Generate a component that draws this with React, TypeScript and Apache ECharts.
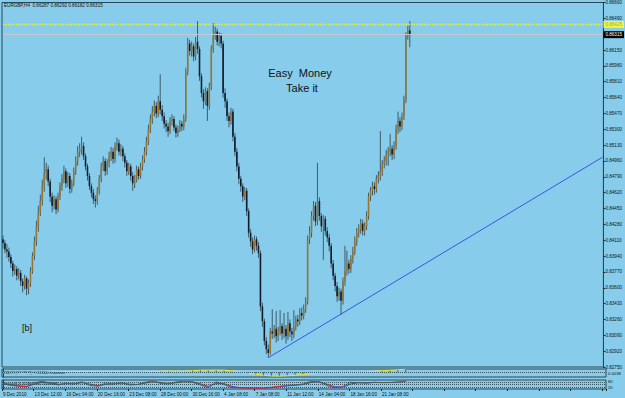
import React, { useEffect, useRef } from 'react';
import * as echarts from 'echarts';

// ---------- data ----------
const timeLabels = ['9 Dec 2010', '13 Dec 12:00', '16 Dec 04:00', '20 Dec 16:00', '23 Dec 08:00', '28 Dec 00:00', '30 Dec 16:00', '4 Jan 08:00', '7 Jan 08:00', '11 Jan 12:00', '14 Jan 04:00', '18 Jan 16:00', '21 Jan 08:00'];

const opens = [
  0.8412,0.8408,0.8401,0.8399,0.8393,0.8386,0.8378,0.8380,0.8373,0.8376,
  0.8367,0.8362,0.8370,0.8359,0.8365,0.8378,0.8394,0.8410,0.8426,0.8442,
  0.8453,0.8469,0.8483,0.8487,0.8474,0.8458,0.8448,0.8455,0.8444,0.8458,
  0.8469,0.8477,0.8485,0.8472,0.8480,0.8466,0.8472,0.8485,0.8496,0.8506,
  0.8509,0.8512,0.8501,0.8490,0.8480,0.8469,0.8462,0.8455,0.8453,0.8464,
  0.8477,0.8490,0.8496,0.8485,0.8494,0.8501,0.8506,0.8498,0.8512,0.8515,
  0.8506,0.8509,0.8501,0.8494,0.8485,0.8490,0.8480,0.8472,0.8477,0.8487,
  0.8480,0.8490,0.8498,0.8506,0.8517,0.8530,0.8541,0.8549,0.8555,0.8547,
  0.8560,0.8551,0.8544,0.8536,0.8533,0.8528,0.8539,0.8541,0.8532,0.8526,
  0.8530,0.8536,0.8533,0.8541,0.8592,0.8622,0.8614,0.8619,0.8608,0.8624,
  0.8616,0.8587,0.8569,0.8560,0.8571,0.8555,0.8576,0.8616,0.8630,0.8635,
  0.8624,0.8630,0.8622,0.8569,0.8560,0.8544,0.8539,0.8549,0.8522,0.8506,
  0.8490,0.8477,0.8469,0.8458,0.8464,0.8442,0.8419,0.8410,0.8401,0.8412,
  0.8405,0.8397,0.8340,0.8324,0.8303,0.8294,0.8290,0.8313,0.8311,0.8316,
  0.8308,0.8313,0.8319,0.8311,0.8316,0.8308,0.8322,0.8313,0.8310,0.8319,
  0.8326,0.8324,0.8333,0.8330,0.8337,0.8346,0.8412,0.8419,0.8437,0.8448,
  0.8431,0.8453,0.8437,0.8426,0.8434,0.8421,0.8414,0.8405,0.8386,0.8373,
  0.8362,0.8351,0.8356,0.8346,0.8367,0.8378,0.8386,0.8380,0.8391,0.8399,
  0.8410,0.8419,0.8423,0.8429,0.8421,0.8426,0.8437,0.8458,0.8464,0.8469,
  0.8466,0.8477,0.8480,0.8485,0.8493,0.8496,0.8504,0.8506,0.8509,0.8503,
  0.8512,0.8530,0.8539,0.8533,0.8544,0.8562,0.8630,0.8636,
];
const closes = [
  0.8408,0.8401,0.8399,0.8393,0.8386,0.8378,0.8380,0.8373,0.8376,0.8367,
  0.8362,0.8370,0.8359,0.8365,0.8378,0.8394,0.8410,0.8426,0.8442,0.8453,
  0.8469,0.8483,0.8487,0.8474,0.8458,0.8448,0.8455,0.8444,0.8458,0.8469,
  0.8477,0.8485,0.8472,0.8480,0.8466,0.8472,0.8485,0.8496,0.8506,0.8509,
  0.8512,0.8501,0.8490,0.8480,0.8469,0.8462,0.8455,0.8453,0.8464,0.8477,
  0.8490,0.8496,0.8485,0.8494,0.8501,0.8506,0.8498,0.8512,0.8515,0.8506,
  0.8509,0.8501,0.8494,0.8485,0.8490,0.8480,0.8472,0.8477,0.8487,0.8480,
  0.8490,0.8498,0.8506,0.8517,0.8530,0.8541,0.8549,0.8555,0.8547,0.8560,
  0.8551,0.8544,0.8536,0.8533,0.8528,0.8539,0.8541,0.8532,0.8526,0.8530,
  0.8536,0.8533,0.8541,0.8592,0.8622,0.8614,0.8619,0.8608,0.8624,0.8616,
  0.8587,0.8569,0.8560,0.8571,0.8555,0.8576,0.8616,0.8630,0.8635,0.8624,
  0.8630,0.8622,0.8569,0.8560,0.8544,0.8539,0.8549,0.8522,0.8506,0.8490,
  0.8477,0.8469,0.8458,0.8464,0.8442,0.8419,0.8410,0.8401,0.8412,0.8405,
  0.8397,0.8340,0.8324,0.8303,0.8294,0.8290,0.8313,0.8311,0.8316,0.8308,
  0.8313,0.8319,0.8311,0.8316,0.8308,0.8322,0.8313,0.8310,0.8319,0.8326,
  0.8324,0.8333,0.8330,0.8337,0.8346,0.8412,0.8419,0.8437,0.8448,0.8431,
  0.8453,0.8437,0.8426,0.8434,0.8421,0.8414,0.8405,0.8386,0.8373,0.8362,
  0.8351,0.8356,0.8346,0.8367,0.8378,0.8386,0.8380,0.8391,0.8399,0.8410,
  0.8419,0.8423,0.8429,0.8421,0.8426,0.8437,0.8458,0.8464,0.8469,0.8466,
  0.8477,0.8480,0.8485,0.8493,0.8496,0.8504,0.8506,0.8509,0.8503,0.8512,
  0.8530,0.8539,0.8533,0.8544,0.8562,0.8630,0.8636,0.86315,
];
const lows = [
  0.8402,0.8397,0.8392,0.8388,0.8381,0.8372,0.8374,0.8368,0.8369,0.8362,
  0.8355,0.8358,0.8352,0.8353,0.8361,0.8375,0.8390,0.8405,0.8420,0.8437,
  0.8448,0.8463,0.8476,0.8469,0.8452,0.8441,0.8444,0.8439,0.8441,0.8454,
  0.8464,0.8472,0.8467,0.8468,0.8461,0.8462,0.8469,0.8481,0.8491,0.8500,
  0.8503,0.8497,0.8486,0.8475,0.8465,0.8457,0.8450,0.8446,0.8449,0.8460,
  0.8473,0.8485,0.8480,0.8481,0.8489,0.8496,0.8493,0.8494,0.8507,0.8502,
  0.8501,0.8496,0.8489,0.8480,0.8481,0.8475,0.8464,0.8467,0.8473,0.8476,
  0.8477,0.8486,0.8494,0.8502,0.8513,0.8526,0.8536,0.8544,0.8542,0.8543,
  0.8546,0.8539,0.8531,0.8527,0.8522,0.8525,0.8534,0.8528,0.8521,0.8522,
  0.8527,0.8528,0.8529,0.8538,0.8588,0.8609,0.8608,0.8603,0.8604,0.8611,
  0.8582,0.8564,0.8552,0.8556,0.8539,0.8551,0.8572,0.8612,0.8626,0.8620,
  0.8619,0.8617,0.8564,0.8553,0.8539,0.8532,0.8535,0.8517,0.8501,0.8485,
  0.8471,0.8463,0.8452,0.8454,0.8437,0.8414,0.8404,0.8396,0.8398,0.8400,
  0.8392,0.8335,0.8318,0.8298,0.8289,0.8285,0.8288,0.8305,0.8306,0.8301,
  0.8303,0.8309,0.8304,0.8306,0.8300,0.8304,0.8307,0.8303,0.8306,0.8314,
  0.8318,0.8320,0.8325,0.8326,0.8333,0.8342,0.8407,0.8414,0.8432,0.8426,
  0.8427,0.8432,0.8420,0.8390,0.8416,0.8409,0.8399,0.8381,0.8368,0.8356,
  0.8345,0.8346,0.8331,0.8342,0.8362,0.8373,0.8375,0.8376,0.8386,0.8395,
  0.8405,0.8414,0.8418,0.8416,0.8416,0.8422,0.8433,0.8453,0.8459,0.8460,
  0.8462,0.8472,0.8475,0.8480,0.8488,0.8491,0.8491,0.8501,0.8497,0.8498,
  0.8508,0.8525,0.8527,0.8529,0.8540,0.8558,0.8626,0.8618,
];
const highs = [
  0.8416,0.8411,0.8407,0.8403,0.8396,0.8389,0.8385,0.8383,0.8381,0.8379,
  0.8370,0.8374,0.8372,0.8369,0.8382,0.8398,0.8415,0.8432,0.8448,0.8460,
  0.8476,0.8500,0.8494,0.8491,0.8477,0.8462,0.8459,0.8458,0.8462,0.8473,
  0.8482,0.8491,0.8488,0.8484,0.8483,0.8476,0.8489,0.8501,0.8512,0.8515,
  0.8522,0.8516,0.8504,0.8493,0.8483,0.8472,0.8466,0.8459,0.8468,0.8481,
  0.8494,0.8501,0.8499,0.8498,0.8506,0.8511,0.8510,0.8516,0.8521,0.8519,
  0.8514,0.8512,0.8504,0.8497,0.8494,0.8493,0.8484,0.8481,0.8491,0.8490,
  0.8494,0.8502,0.8511,0.8522,0.8535,0.8546,0.8555,0.8561,0.8559,0.8566,
  0.8589,0.8556,0.8548,0.8540,0.8537,0.8543,0.8546,0.8544,0.8535,0.8534,
  0.8540,0.8539,0.8546,0.8596,0.8628,0.8626,0.8624,0.8622,0.8629,0.8646,
  0.8619,0.8590,0.8573,0.8575,0.8574,0.8580,0.8620,0.8644,0.8640,0.8638,
  0.8634,0.8633,0.8625,0.8574,0.8563,0.8548,0.8553,0.8552,0.8526,0.8510,
  0.8494,0.8480,0.8472,0.8468,0.8467,0.8445,0.8423,0.8414,0.8416,0.8415,
  0.8409,0.8400,0.8344,0.8327,0.8307,0.8299,0.8317,0.8337,0.8320,0.8335,
  0.8318,0.8336,0.8322,0.8333,0.8320,0.8334,0.8326,0.8317,0.8336,0.8330,
  0.8331,0.8338,0.8339,0.8342,0.8350,0.8416,0.8426,0.8442,0.8453,0.8452,
  0.8494,0.8457,0.8440,0.8438,0.8437,0.8425,0.8418,0.8408,0.8390,0.8376,
  0.8366,0.8360,0.8359,0.8371,0.8405,0.8400,0.8390,0.8395,0.8404,0.8415,
  0.8424,0.8428,0.8434,0.8433,0.8430,0.8442,0.8462,0.8468,0.8474,0.8473,
  0.8481,0.8485,0.8528,0.8497,0.8501,0.8508,0.8511,0.8525,0.8513,0.8517,
  0.8535,0.8549,0.8543,0.8548,0.8566,0.8634,0.8641,0.8646,
];

// indicator values, one every 4 bars
const macdMain = [-0.0008,-0.0012,-0.0015,-0.0016,-0.0005,0.0008,0.0010,0.0008,0.0007,0.0008,
  0.0011,0.0006,0.0003,0.0004,0.0006,0.0006,0.0003,0.0001,0.0004,0.0012,
  0.0016,0.0014,0.0010,0.0010,0.0028,0.0030,0.0024,0.0030,0.0024,0.0010,
  -0.0008,-0.0022,-0.0033,-0.0048,-0.0052,-0.0048,-0.0042,-0.0034,-0.0026,-0.0008,
  0.0005,0.0008,0.0000,-0.0010,-0.0008,-0.0002,0.0006,0.0016,0.0022,0.0028,
  0.0034,0.0044];
const macdSignal = [-0.0006,-0.0009,-0.0012,-0.0014,-0.0010,-0.0002,0.0005,0.0008,0.0008,0.0008,
  0.0009,0.0008,0.0005,0.0004,0.0005,0.0006,0.0004,0.0002,0.0003,0.0007,
  0.0012,0.0014,0.0012,0.0011,0.0019,0.0026,0.0026,0.0028,0.0026,0.0017,
  0.0004,-0.0012,-0.0025,-0.0038,-0.0047,-0.0049,-0.0045,-0.0038,-0.0030,-0.0016,
  -0.0004,0.0004,0.0002,-0.0006,-0.0008,-0.0004,0.0002,0.0010,0.0018,0.0024,
  0.0030,0.0038];
const oscRed = [55,40,30,25,70,85,60,45,65,55, 80,40,30,65,55,70,45,50,75,90,
  60,55,80,85,75,45,15,80,50,15, 12,10,10,8,20,30,40,45,55,85,
  80,40,12,25,75,70,65,75,70,72, 78,90];
const oscBlue = [60,48,35,28,55,78,70,52,58,58, 70,55,38,50,58,65,55,50,65,82,
  72,60,70,82,80,58,28,60,60,28, 15,12,10,10,15,25,35,42,50,72,
  82,55,25,20,55,70,68,72,72,72, 75,85];

const priceMin = 0.8275;
const priceMax = 0.8666;
const priceStep = 0.0017;
const resistanceLevel = 0.86425;
const bidPrice = 0.86315;
const trendStart = { bar: 135, price: 0.8285 };
const trendEnd = { bar: 305, price: 0.85 };
const TOTAL_SLOTS = 306;
const LABEL_EVERY = 16;
const IND_STEP = 4;

const FONT = 'Liberation Sans, Arial, sans-serif';
const BG = '#87cdeb';
const FRAME = '#2e4450';

export default function App() {
  const ref = useRef<HTMLDivElement>(null);
  useEffect(() => {
    if (!ref.current) return;
    const chart = echarts.init(ref.current, undefined, { renderer: 'svg' });

    const categories = Array.from({ length: TOTAL_SLOTS }, (_, i) =>
      i % LABEL_EVERY === 0 && timeLabels[i / LABEL_EVERY] ? timeLabels[i / LABEL_EVERY] : '');
    const candleData = opens.map((o, i) => [i, o, closes[i], lows[i], highs[i]]);
    const ind = (arr: number[]) => arr.map((v, k) => [k * IND_STEP, v]);
    const lastSlot = TOTAL_SLOTS - 1;

    const option: any = {
      animation: false,
      backgroundColor: BG,
      textStyle: { fontFamily: FONT },
      grid: [
        { left: 2, top: 2, width: 604, height: 365, show: true, borderColor: FRAME, borderWidth: 1 },
        { left: 2, top: 369, width: 604, height: 8, show: true, borderColor: FRAME, borderWidth: 1 },
        { left: 2, top: 380, width: 604, height: 9, show: true, borderColor: FRAME, borderWidth: 1 },
      ],
      xAxis: [
        { type: 'category', gridIndex: 0, data: categories, boundaryGap: true, show: false },
        { type: 'value', gridIndex: 1, min: -0.5, max: TOTAL_SLOTS - 0.5, show: false },
        { type: 'value', gridIndex: 2, min: -0.5, max: TOTAL_SLOTS - 0.5, show: false },
        {
          type: 'category', gridIndex: 2, data: categories, boundaryGap: true, position: 'bottom',
          axisLine: { show: false },
          axisTick: { show: true, length: 2, interval: (i: number) => i % LABEL_EVERY === 0, lineStyle: { color: '#222' } },
          axisLabel: { interval: (i: number) => i % LABEL_EVERY === 0, fontSize: 4.6, color: '#111', align: 'left', margin: 3, fontFamily: FONT },
        },
      ],
      yAxis: [
        {
          type: 'value', gridIndex: 0, position: 'right', min: priceMin, max: priceMax, interval: priceStep,
          axisLine: { show: true, lineStyle: { color: FRAME } },
          axisTick: { show: true, length: 2, lineStyle: { color: '#222' } },
          splitLine: { show: false },
          axisLabel: { fontSize: 4.6, color: '#111', margin: 2, fontFamily: FONT, hideOverlap: false, formatter: (v: number) => v.toFixed(5) },
        },
        {
          type: 'value', gridIndex: 1, position: 'right', min: -0.006, max: 0.004, interval: 0.005,
          axisLine: { show: true, lineStyle: { color: FRAME } },
          axisTick: { show: false }, splitLine: { show: false },
          axisLabel: { fontSize: 4.2, color: '#111', margin: 2, fontFamily: FONT, formatter: (v: number) => (Math.abs(v + 0.001) < 1e-6 ? '0.0038' : '') },
        },
        {
          type: 'value', gridIndex: 2, position: 'right', min: 0, max: 100, interval: 20,
          axisLine: { show: true, lineStyle: { color: FRAME } },
          axisTick: { show: false }, splitLine: { show: false },
          axisLabel: { fontSize: 4.2, color: '#111', margin: 2, fontFamily: FONT, formatter: (v: number) => (v === 20 || v === 80 ? String(v) : '') },
        },
      ],
      series: [
        {
          type: 'custom', xAxisIndex: 0, yAxisIndex: 0, data: candleData, encode: { x: 0, y: [1, 2, 3, 4] },
          clip: true,
          renderItem: (params: any, api: any) => {
            const i = api.value(0);
            const o = api.value(1), c = api.value(2), l = api.value(3), h = api.value(4);
            const po = api.coord([i, o]);
            const pc = api.coord([i, c]);
            const pl = api.coord([i, l]);
            const ph = api.coord([i, h]);
            const w = Math.max(api.size([1, 0])[0] * 0.8, 1);
            const x = po[0];
            const yTop = Math.min(po[1], pc[1]);
            const hh = Math.max(Math.abs(po[1] - pc[1]), 1);
            return {
              type: 'group',
              children: [
                { type: 'line', shape: { x1: x, y1: ph[1], x2: x, y2: pl[1] }, style: { stroke: '#3f5c69', lineWidth: 1 } },
                { type: 'rect', shape: { x: x - w / 2, y: yTop, width: w, height: hh }, style: { fill: c >= o ? '#9a7431' : '#0f1a2c' } },
              ],
            };
          },
          markLine: {
            silent: true, symbol: ['none', 'none'], animation: false,
            data: [
              [
                {
                  coord: [0, resistanceLevel],
                  lineStyle: { color: '#f4f41c', type: 'dotted', width: 1.3 },
                  label: { show: true, position: 'end', distance: 1, formatter: resistanceLevel.toFixed(5), backgroundColor: '#f4f43a', color: '#a8a868', fontSize: 4.6, padding: [1, 2] },
                },
                { coord: [lastSlot, resistanceLevel] },
              ],
              [
                {
                  coord: [0, bidPrice],
                  lineStyle: { color: '#c4c8cc', type: 'solid', width: 1 },
                  label: { show: true, position: 'end', distance: 1, formatter: bidPrice.toFixed(5), backgroundColor: '#000', color: '#fff', fontSize: 4.6, padding: [1, 2] },
                },
                { coord: [lastSlot, bidPrice] },
              ],
              [
                { coord: [trendStart.bar, trendStart.price], lineStyle: { color: '#3a55e6', type: 'solid', width: 1 }, label: { show: false } },
                { coord: [trendEnd.bar, trendEnd.price] },
              ],
            ],
          },
        },
        {
          type: 'bar', xAxisIndex: 1, yAxisIndex: 1, data: ind(macdMain), barWidth: 1,
          itemStyle: { color: '#3550e0' }, silent: true,
        },
        {
          type: 'line', xAxisIndex: 1, yAxisIndex: 1, data: ind(macdSignal), symbol: 'none',
          lineStyle: { color: '#e6e62a', width: 1 }, silent: true,
          markLine: {
            silent: true, symbol: ['none', 'none'], label: { show: false },
            lineStyle: { color: '#3c5560', type: 'dotted', width: 1 },
            data: [{ yAxis: 0 }],
          },
        },
        {
          type: 'line', xAxisIndex: 2, yAxisIndex: 2, data: ind(oscBlue), symbol: 'none',
          lineStyle: { color: '#2f45e0', width: 1 }, silent: true,
          markLine: {
            silent: true, symbol: ['none', 'none'], label: { show: false },
            lineStyle: { color: '#3c5560', type: 'dotted', width: 1 },
            data: [{ yAxis: 20 }, { yAxis: 50 }, { yAxis: 80 }],
          },
        },
        {
          type: 'line', xAxisIndex: 2, yAxisIndex: 2, data: ind(oscRed), symbol: 'none',
          lineStyle: { color: '#e02626', width: 1 }, silent: true,
        },
      ],
      graphic: [
        { type: 'text', x: 4, y: 3, style: { text: 'EURGBP,H4  0.86287 0.86292 0.86182 0.86315', fontSize: 4.6, fill: '#111', fontFamily: FONT, textVerticalAlign: 'top' } },
        { type: 'text', x: 300, y: 73, style: { text: 'Easy  Money', fontSize: 11, fill: '#111', fontFamily: FONT, textAlign: 'center', textVerticalAlign: 'middle' } },
        { type: 'text', x: 302, y: 88, style: { text: 'Take it', fontSize: 11, fill: '#111', fontFamily: FONT, textAlign: 'center', textVerticalAlign: 'middle' } },
        { type: 'text', x: 27, y: 328, style: { text: '[b]', fontSize: 9, fill: '#111', fontFamily: FONT, textAlign: 'center', textVerticalAlign: 'middle' } },
        { type: 'text', x: 3, y: 370, style: { text: 'MACD(12,26,9) 0.00381 0.00318', fontSize: 4.2, fill: '#111', fontFamily: FONT, textVerticalAlign: 'top' } },
        { type: 'text', x: 3, y: 381, style: { text: 'Stoch(8,3,3) 88.1547 83.6021', fontSize: 4.2, fill: '#111', fontFamily: FONT, textVerticalAlign: 'top' } },
      ],
    };
    chart.setOption(option);
    return () => chart.dispose();
  }, []);

  return (
    <div
      ref={ref}
      style={{ position: 'fixed', left: 0, top: 0, width: 625, height: 398, background: BG }}
    />
  );
}
